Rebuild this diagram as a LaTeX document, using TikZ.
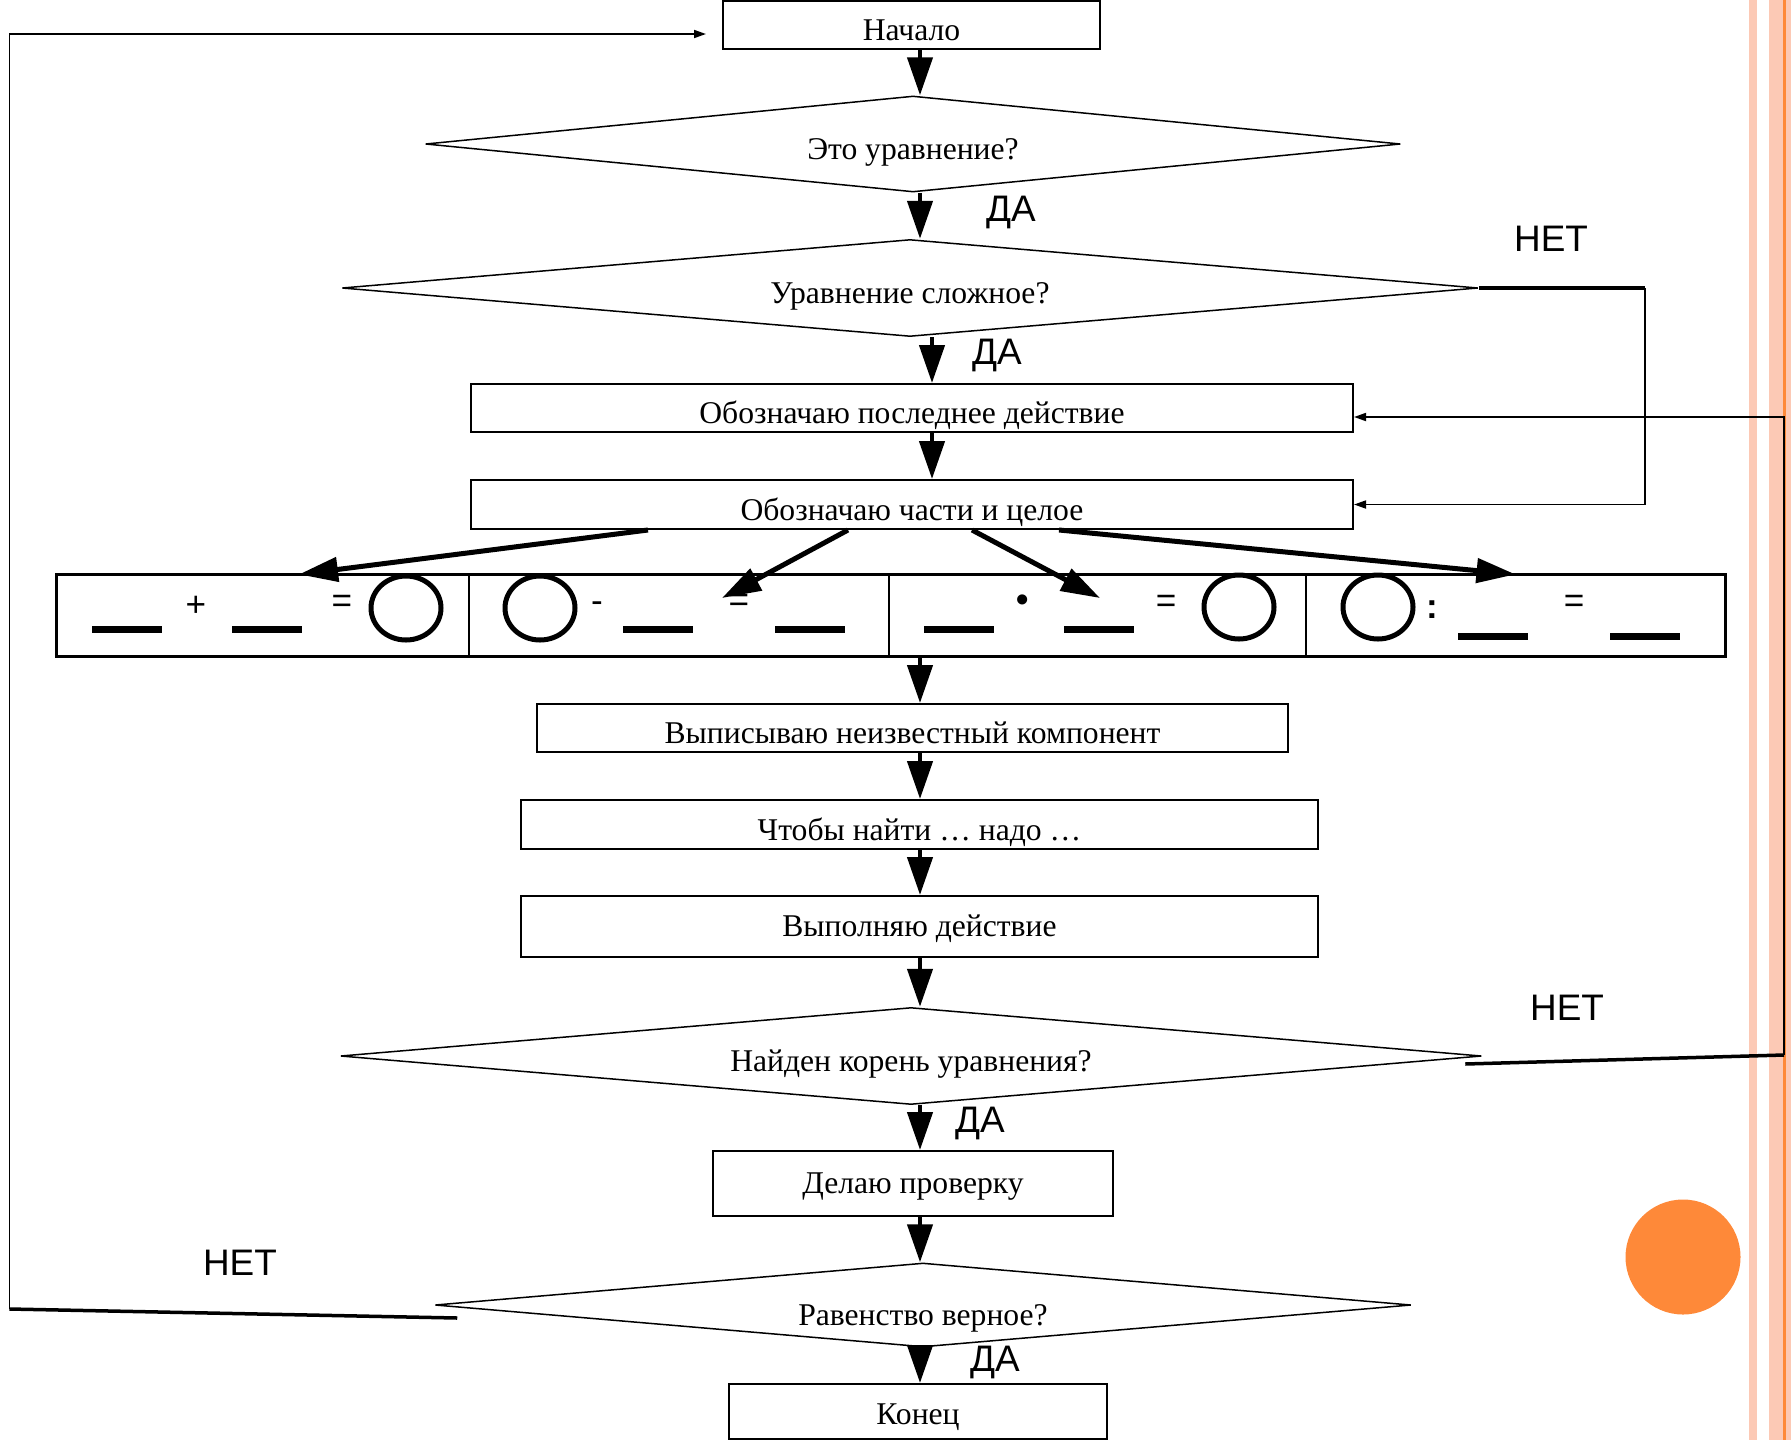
\documentclass[tikz,border=0pt]{standalone}
\usepackage{fontspec}
\setmainfont{Liberation Serif}
\setsansfont{Liberation Sans}
\usetikzlibrary{shapes.geometric,arrows.meta}
\definecolor{peach}{RGB}{252,201,181}
\definecolor{accent}{RGB}{254,137,57}

\begin{document}
\begin{tikzpicture}[
    block/.style={draw,line width=0.04cm,inner sep=0pt,text height=0.62cm,text depth=0pt,font=\fontsize{18}{20}\selectfont},
    query/.style={diamond,draw,line width=0.03cm,shape aspect=12,inner sep=0pt,text height=0.62cm,text depth=0pt,font=\fontsize{18}{20}\selectfont},
    cell/.style={draw,line width=0.025cm,minimum height=1.62cm,inner sep=0pt},
    sign/.style={inner sep=0pt,font=\sffamily\fontsize{20}{20}\selectfont},
    answer/.style={inner sep=0pt,font=\sffamily\fontsize{21}{21}\selectfont},
    flow/.style={line width=0.09cm,-{Triangle[length=0.76cm,width=0.5cm]}},
    pointer/.style={line width=0.1cm,-{Triangle[length=0.78cm,width=0.48cm]}},
    back/.style={line width=0.035cm,-{Triangle[length=0.24cm,width=0.16cm]}},
    loopline/.style={line width=0.07cm},
    blank/.style={line width=0.14cm},
    ring/.style={line width=0.1cm}
]
                \useasboundingbox (0,0) rectangle (35.82,-28.8);
                % slide decoration
                \fill[peach] (34.98,0) rectangle (35.14,-28.8);
                \fill[peach] (35.38,0) rectangle (35.82,-28.8);
                \fill[accent] (35.66,0) rectangle (35.72,-28.8);
                \fill[accent] (33.66,-25.14) circle (1.15cm);
                % main column
                \node[block,minimum width=7.54cm,minimum height=0.96cm] (start) at (18.23,-0.5) {Начало};
                \node[query,minimum width=19.5cm,minimum height=1.92cm] (isEq) at (18.26,-2.88) {Это уравнение?};
                \node[query,minimum width=22.72cm,minimum height=1.94cm] (isHard) at (18.2,-5.76) {Уравнение сложное?};
                \node[block,minimum width=17.64cm,minimum height=0.96cm] (lastOp) at (18.24,-8.16) {Обозначаю последнее действие};
                \node[block,minimum width=17.64cm,minimum height=0.98cm] (parts) at (18.24,-10.09) {Обозначаю части и целое};
                \node[cell,minimum width=8.24cm] (plus) at (5.26,-12.31) {};
                \node[cell,minimum width=8.4cm] (minus) at (13.58,-12.31) {};
                \node[cell,minimum width=8.34cm] (times) at (21.95,-12.31) {};
                \node[cell,minimum width=8.38cm] (divide) at (30.31,-12.31) {};
                \draw[line width=0.06cm] (plus.north west) rectangle (divide.south east);
                \node[block,minimum width=15.02cm,minimum height=0.96cm] (unknown) at (18.25,-14.56) {Выписываю неизвестный компонент};
                \node[block,minimum width=15.95cm,minimum height=0.98cm] (rule) at (18.39,-16.49) {Чтобы найти … надо …};
                \node[block,text height=0.4cm,minimum width=15.95cm,minimum height=1.22cm] (compute) at (18.39,-18.53) {Выполняю действие};
                \node[query,minimum width=22.82cm,minimum height=1.94cm] (isRoot) at (18.22,-21.12) {Найден корень уравнения?};
                \node[block,text height=0.4cm,minimum width=8cm,minimum height=1.3cm] (check) at (18.26,-23.67) {Делаю проверку};
                \node[query,text height=0.8cm,minimum width=19.52cm,minimum height=1.68cm] (isTrue) at (18.46,-26.1) {Равенство верное?};
                \node[block,text height=0.52cm,minimum width=7.56cm,minimum height=1.1cm] (finish) at (18.36,-28.23) {Конец};
                % cell contents
                \draw[blank] (1.84,-12.58) -- ++(1.4,0);
                \node[sign] (add) at (3.92,-12.12) {+};
                \draw[blank] (4.64,-12.58) -- ++(1.4,0);
                \node[sign] (eqA) at (6.84,-12.08) {=};
                \draw[ring] (8.12,-12.16) ellipse (0.7cm and 0.64cm);
                \draw[ring] (10.8,-12.16) ellipse (0.7cm and 0.64cm);
                \node[sign] (sub) at (11.94,-12.14) {-};
                \draw[blank] (12.46,-12.58) -- ++(1.4,0);
                \node[sign] (eqB) at (14.78,-12.06) {=};
                \draw[blank] (15.5,-12.58) -- ++(1.4,0);
                \draw[blank] (18.48,-12.58) -- ++(1.4,0);
                \node[sign] (mul) at (20.46,-12.06) {\textbf{•}};
                \draw[blank] (21.28,-12.58) -- ++(1.4,0);
                \node[sign] (eqC) at (23.32,-12.08) {=};
                \draw[ring] (24.78,-12.14) ellipse (0.7cm and 0.64cm);
                \draw[ring] (27.56,-12.14) ellipse (0.7cm and 0.64cm);
                \node[sign] (quot) at (28.64,-12.2) {\textbf{:}};
                \draw[blank] (29.16,-12.72) -- ++(1.4,0);
                \node[sign] (eqD) at (31.48,-12.08) {=};
                \draw[blank] (32.2,-12.72) -- ++(1.4,0);
                % arrows
                \coordinate (axis) at (18.4,0);
                \coordinate (axisB) at (18.64,0);
                \draw[flow] (start.south -| axis) -- (isEq.north -| axis);
                \draw[flow] (isEq.south -| axis) -- (isHard.north -| axis);
                \draw[flow] (isHard.south -| axisB) -- (lastOp.north -| axisB);
                \draw[flow] (lastOp.south -| axisB) -- (parts.north -| axisB);
                \draw[flow] (times.south -| axis) -- (unknown.north -| axis);
                \draw[flow] (unknown.south -| axis) -- (rule.north -| axis);
                \draw[flow] (rule.south -| axis) -- (compute.north -| axis);
                \draw[flow] (compute.south -| axis) -- (isRoot.north -| axis);
                \draw[flow] (isRoot.south -| axis) -- (check.north -| axis);
                \draw[flow] (check.south -| axis) -- (isTrue.north -| axis);
                \draw[flow] (isTrue.south -| axis) -- (finish.north -| axis);
                \draw[pointer] ([xshift=-5.28cm]parts.south) -- ([xshift=0.72cm]plus.north);
                \draw[pointer] ([xshift=-1.28cm]parts.south) -- ([shift={(0.86,0.35)}]minus.center);
                \draw[pointer] ([xshift=1.2cm]parts.south) -- ([shift={(0.05,0.35)}]times.center);
                \draw[pointer] ([xshift=2.94cm]parts.south) -- (divide.north);
                % loops back
                \coordinate (turnA) at (32.9,-5.76);
                \draw[loopline] (isHard.east) -- (turnA);
                \draw[back] (turnA) |- (parts.east);
                \coordinate (turnB) at (35.68,-21.1);
                \draw[loopline] ([shift={(-0.34,-0.16)}]isRoot.east) -- (turnB);
                \draw[back] (turnB) |- ([yshift=-0.18cm]lastOp.east);
                \coordinate (turnC) at (0.19,-26.18);
                \draw[loopline] ([shift={(0.46,-0.26)}]isTrue.west) -- (turnC);
                \draw[back] (turnC) |- ([shift={(-0.32,-0.18)}]start.west);
                % answers
                \node[answer] (yesA) at (20.22,-4.24) {ДА};
                \node[answer] (yesB) at (19.94,-7.1) {ДА};
                \node[answer] (yesC) at (19.6,-22.46) {ДА};
                \node[answer] (yesD) at (19.9,-27.24) {ДА};
                \node[answer] (noA) at (31.02,-4.78) {НЕТ};
                \node[answer] (noB) at (31.34,-20.16) {НЕТ};
                \node[answer] (noC) at (4.8,-25.26) {НЕТ};
\end{tikzpicture}
\end{document}
